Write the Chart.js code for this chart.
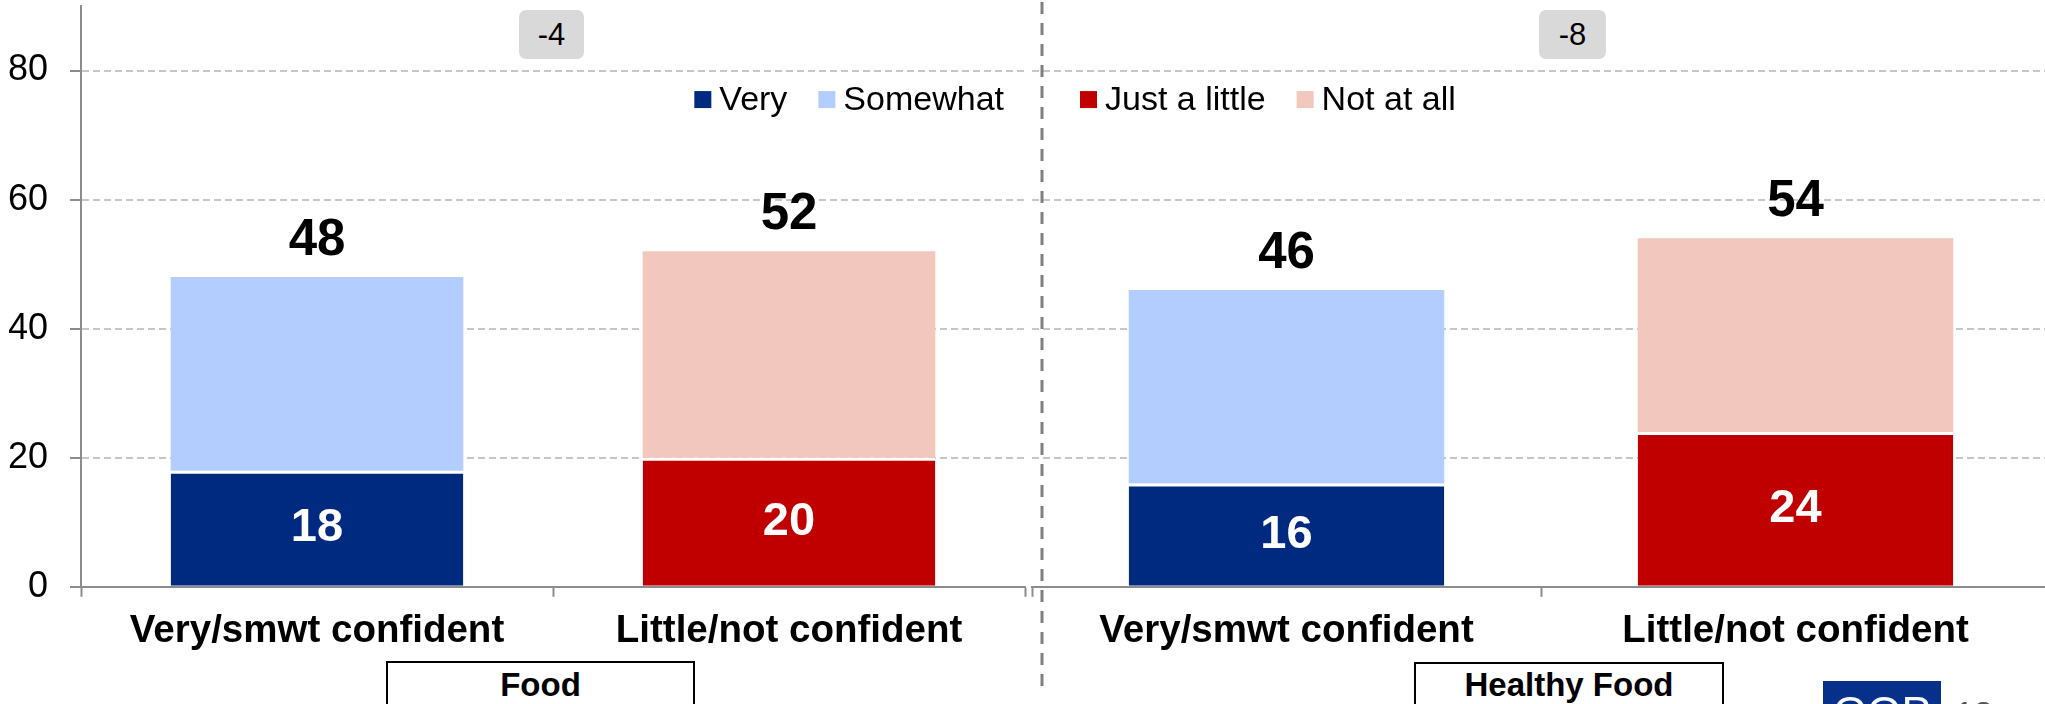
<!DOCTYPE html>
<html>
<head>
<meta charset="utf-8">
<script src="https://cdn.jsdelivr.net/npm/chart.js@4"></script>
<style>
  body { margin: 0; width: 2045px; height: 704px; overflow: hidden; background: #fff; position: relative; font-family: 'Liberation Sans', Arial, sans-serif; }
  .pane { position: absolute; top: 0; height: 704px; }
  #leftPane { left: 0; width: 1048px; }
  #rightPane { left: 1020px; width: 1030px; }
  .delta { position: absolute; top: 10px; height: 49px; background: #d9d9d9; border-radius: 7px; font-size: 31px; line-height: 49px; text-align: center; color: #000; }
  .group { position: absolute; border: 2px solid #000; background: #fff; font-weight: bold; font-size: 33px; text-align: center; box-sizing: border-box; }
  .gop { position: absolute; left: 1823px; top: 681px; width: 118px; height: 40px; background: #06308a; color: #fff; font-size: 44px; line-height: 64px; text-align: center; overflow: hidden; }
  .page { position: absolute; left: 1955px; top: 694px; font-size: 34px; color: #555; }
</style>
</head>
<body>
<div class="pane" id="leftPane"><canvas id="foodChart"></canvas></div>
<div class="pane" id="rightPane"><canvas id="healthyChart"></canvas></div>
<div class="delta" id="deltaFood" style="left:519px;width:65px;"></div>
<div class="delta" id="deltaHealthy" style="left:1539px;width:67px;"></div>
<div class="group" id="groupFood" style="left:386px;top:661px;width:309px;height:50px;line-height:44px;"></div>
<div class="group" id="groupHealthy" style="left:1414px;top:662px;width:310px;height:44px;line-height:42px;"></div>
<div class="gop">GOP</div>
<div class="page">13</div>
<script>
// categories and values (per group: Food, Healthy Food)
const categories = ['Very/smwt confident', 'Little/not confident'];
const groups = ['Food', 'Healthy Food'];
const veryVals = [18, 16];
const somewhatVals = [30, 30];
const littleVals = [20, 24];
const notAtAllVals = [32, 30];
const yTicks = [0, 20, 40, 60, 80];

const seriesNames = ['Very', 'Somewhat', 'Just a little', 'Not at all'];
const seriesColors = ['#002a7f', '#b3cdff', '#c00000', '#f2c7be'];

const FONT = "'Liberation Sans', Arial, sans-serif";
Chart.defaults.font.family = FONT;
Chart.defaults.color = '#000';

function buildDatasets(g) {
    const vals = [veryVals[g], somewhatVals[g], littleVals[g], notAtAllVals[g]];
    return vals.map((v, i) => ({
        label: seriesNames[i],
        data: i < 2 ? [v, null] : [null, v],
        backgroundColor: seriesColors[i],
        borderColor: '#ffffff',
        borderWidth: (i === 0 || i === 2) ? {top: 3, left: 0, right: 0, bottom: 0} : 0,
        borderSkipped: false,
        barPercentage: 0.62,
        categoryPercentage: 1.0
    }));
}

// values inside the lower segment, totals above the stack
const labelPlugin = {
    id: 'barLabels',
    afterDatasetsDraw(chart) {
        const ctx = chart.ctx;
        const xs = chart.scales.x, ys = chart.scales.y;
        ctx.save();
        ctx.textAlign = 'center';
        ctx.textBaseline = 'middle';
        [0, 2].forEach(di => {
            const meta = chart.getDatasetMeta(di);
            meta.data.forEach((bar, j) => {
                const v = chart.data.datasets[di].data[j];
                if (v == null) return;
                const p = bar.getProps(['x', 'y', 'base'], true);
                ctx.fillStyle = '#fff';
                ctx.font = 'bold 47px ' + FONT;
                ctx.fillText(v, p.x, (p.y + p.base) / 2);
            });
        });
        categories.forEach((c, j) => {
            let total = 0;
            chart.data.datasets.forEach(ds => { if (ds.data[j] != null) total += ds.data[j]; });
            ctx.fillStyle = '#000';
            ctx.font = 'bold 51px ' + FONT;
            ctx.fillText(total, xs.getPixelForValue(j), ys.getPixelForValue(total) - 36);
        });
        ctx.restore();
    }
};

function legendPlugin(indices, align, offset) {
    return {
        id: 'sideLegend',
        afterDraw(chart) {
            const ctx = chart.ctx;
            const area = chart.chartArea;
            const yc = chart.scales.y.getPixelForValue(75.5);
            const box = 17, gapText = 8, gapItem = 31;
            ctx.save();
            ctx.font = '34px ' + FONT;
            ctx.textBaseline = 'middle';
            ctx.textAlign = 'left';
            const widths = indices.map(i => box + gapText + ctx.measureText(chart.data.datasets[i].label).width);
            const total = widths.reduce((a, b) => a + b, 0) + gapItem * (indices.length - 1);
            let x = align === 'end' ? area.right - offset - total : area.left + offset;
            indices.forEach((i, k) => {
                ctx.fillStyle = chart.data.datasets[i].backgroundColor;
                ctx.fillRect(x, yc - box / 2, box, box);
                ctx.fillStyle = '#000';
                ctx.fillText(chart.data.datasets[i].label, x + box + gapText, yc + 1);
                x += widths[k] + gapItem;
            });
            ctx.restore();
        }
    };
}

const dividerPlugin = {
    id: 'divider',
    afterDraw(chart) {
        const ctx = chart.ctx;
        ctx.save();
        ctx.strokeStyle = '#808080';
        ctx.lineWidth = 3;
        ctx.setLineDash([12, 9]);
        ctx.beginPath();
        ctx.moveTo(22, 2);
        ctx.lineTo(22, 686);
        ctx.stroke();
        ctx.restore();
    }
};

function makeOptions(showY, pad) {
    return {
        responsive: true,
        maintainAspectRatio: false,
        animation: false,
        layout: { padding: pad },
        plugins: { legend: { display: false }, tooltip: { enabled: false } },
        scales: {
            x: {
                stacked: true,
                offset: true,
                grid: { display: true, offset: true, drawOnChartArea: false, drawTicks: true, tickLength: 10, tickColor: '#8c8c8c', tickWidth: 2 },
                border: { color: '#8c8c8c', width: 2 },
                ticks: { color: '#000', padding: 11, font: { size: 38.5, weight: 'bold' } }
            },
            y: {
                stacked: true,
                min: 0,
                max: 90,
                afterBuildTicks: axis => { axis.ticks = yTicks.map(v => ({ value: v })); },
                afterFit: axis => {
                    axis.paddingTop = 0; axis.paddingBottom = 0;
                    if (showY) axis.width = 72;
                },
                grid: { color: '#c6c6c6', lineWidth: 2, drawTicks: showY, tickLength: 11, tickColor: '#8c8c8c', tickBorderDash: [], tickWidth: 2 },
                border: { display: showY, color: '#8c8c8c', width: 2, dash: [7, 4] },
                ticks: { display: showY, color: '#000', padding: 22, font: { size: 36 } }
            }
        }
    };
}

new Chart(document.getElementById('foodChart'), {
    type: 'bar',
    data: { labels: categories, datasets: buildDatasets(0) },
    options: makeOptions(true, { top: 6, left: 9, right: 23, bottom: 39 }),
    plugins: [labelPlugin, legendPlugin([0, 1], 'end', 21)]
});

new Chart(document.getElementById('healthyChart'), {
    type: 'bar',
    data: { labels: categories, datasets: buildDatasets(1) },
    options: makeOptions(false, { top: 6, left: 12, right: 0, bottom: 39 }),
    plugins: [labelPlugin, legendPlugin([2, 3], 'start', 48), dividerPlugin]
});

// annotations: gap between the two sides, group names
function delta(g) { return (veryVals[g] + somewhatVals[g]) - (littleVals[g] + notAtAllVals[g]); }
document.getElementById('deltaFood').textContent = delta(0);
document.getElementById('deltaHealthy').textContent = delta(1);
document.getElementById('groupFood').textContent = groups[0];
document.getElementById('groupHealthy').textContent = groups[1];
</script>
</body>
</html>
